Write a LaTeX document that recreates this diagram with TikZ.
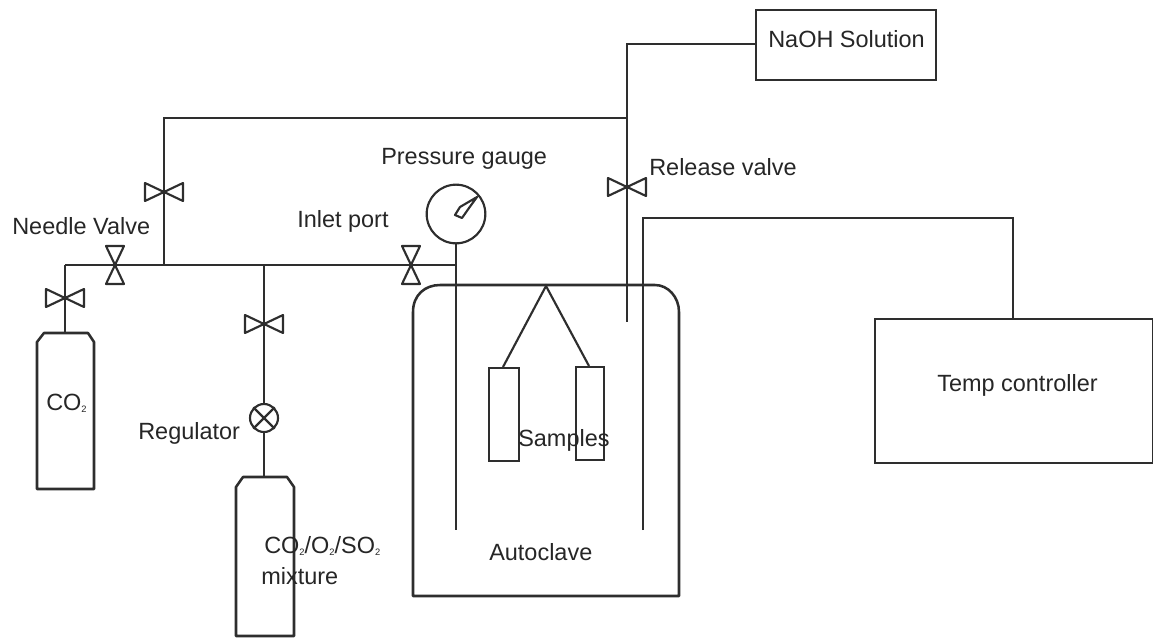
\documentclass[tikz,border=0pt]{standalone}
\usepackage{fontspec}
\setmainfont{Liberation Sans}
\newcommand{\subtwo}{\raisebox{-1.5pt}{\fontsize{7}{8}\selectfont 2}}
\tikzset{
  x=0.75pt,y=-0.75pt,
  line/.style={draw=black!82,line width=1.9pt},
  thin line/.style={draw=black!82,line width=1.6pt},
  label/.style={inner sep=0pt,font=\fontsize{17.6}{21}\selectfont,text=black!85,anchor=west,align=left},
  boxnode/.style={thin line,draw,inner sep=0pt,anchor=north west,minimum width=#1},
  pics/hvalve/.style={code={\draw[thin line,line join=round] (0,0)--(-19,-9)--(-19,9)--(0,0)--(19,-9)--(19,9)--cycle;}},
  pics/vvalve/.style={code={\draw[thin line,line join=round] (0,0)--(-9,-19)--(9,-19)--(0,0)--(-9,19)--(9,19)--cycle;}},
}
\begin{document}
\begin{tikzpicture}
\useasboundingbox (0,0) rectangle (1153,639);
% named junctions
\coordinate (topleft) at (164,118);
\coordinate (topjoin) at (627,118);
\coordinate (naohjoin) at (627,44);
\coordinate (ventend) at (627,322);
\coordinate (mainleft) at (65,265);
\coordinate (branchA) at (164,265);
\coordinate (branchB) at (264,265);
\coordinate (gaugejoin) at (456,265);
\coordinate (probeend) at (456,530);
\coordinate (tcend) at (643,530);
\coordinate (tcbend) at (643,218);
\coordinate (tcbendr) at (1013,218);
\coordinate (hanger) at (546,286);
% boxes
\node[boxnode=135pt,minimum height=52.5pt] (naoh) at (755,8.5) {};
\node[boxnode=208.5pt,minimum height=108pt] (tc) at (873.5,317.5) {};
\node[boxnode=22.5pt,minimum height=69.5pt] (s1) at (488,367) {};
\node[boxnode=21pt,minimum height=69.5pt] (s2) at (575,366) {};
\node[thin line,draw,circle,inner sep=0pt,minimum size=44pt] (gauge) at (456,214) {};
\node[thin line,draw,circle,inner sep=0pt,minimum size=21pt] (reg) at (264,418) {};
% pipes
\draw[line] (branchA)--(topleft)--(topjoin);
\draw[line] (naoh.west |- naohjoin)--(naohjoin)--(ventend);
\draw[line] (mainleft)--(gaugejoin);
\draw[line] (gauge.south)--(probeend);
\draw[line] (tcend)--(tcbend)--(tcbendr)--(tc.north -| tcbendr);
\draw[line] (branchB)--(reg.north);
% autoclave
\draw[line,line join=round] (413,596)--(413,312) .. controls (413,295) and (425,285) .. (440,285)--(655,285) .. controls (668,285) and (679,297) .. (679,312)--(679,596)--cycle;
\draw[thin line] (s1.north -| 503,0)--(hanger)--(s2.north -| 589,0);
% cylinders
\draw[line,line join=round] (37,489)--(37,342)--(44,333)--(88,333)--(94,342)--(94,489)--cycle;
\draw[line] (65,333)--(mainleft);
\draw[line,line join=round] (236,636)--(236,487)--(243,477)--(287,477)--(294,487)--(294,636)--cycle;
\draw[line] (reg.south)--(264,477);
% regulator cross
\draw[thin line] (reg.north west)--(reg.south east) (reg.north east)--(reg.south west);
% gauge needle
\draw[thin line,line join=round] (477,197)--(460,207)--(455,215)--(462,218)--(469,208)--cycle;
% valves
\pic at (65,298) {hvalve};
\pic at (115,265) {vvalve};
\pic at (164,192) {hvalve};
\pic at (264,324) {hvalve};
\pic at (411,265) {vvalve};
\pic at (627,187) {hvalve};
% labels
\node[label] (l1) at (768,39) {NaOH Solution};
\node[label] (l2) at (649,167) {Release valve};
\node[label] (l3) at (381,159) {Pressure gauge};
\node[label] (l4) at (297,221) {Inlet port};
\node[label] (l5) at (12,226) {Needle Valve};
\node[label] (l6) at (46,403) {CO\subtwo};
\node[label] (l7) at (138,433) {Regulator};
\node[label] (l8) at (264,546) {CO\subtwo/O\subtwo/SO\subtwo};
\node[label] (l9) at (261,576) {mixture};
\node[label] (l10) at (518,440) {Samples};
\node[label] (l11) at (489,552) {Autoclave};
\node[label] (l12) at (937,385) {Temp controller};
\end{tikzpicture}
\end{document}
